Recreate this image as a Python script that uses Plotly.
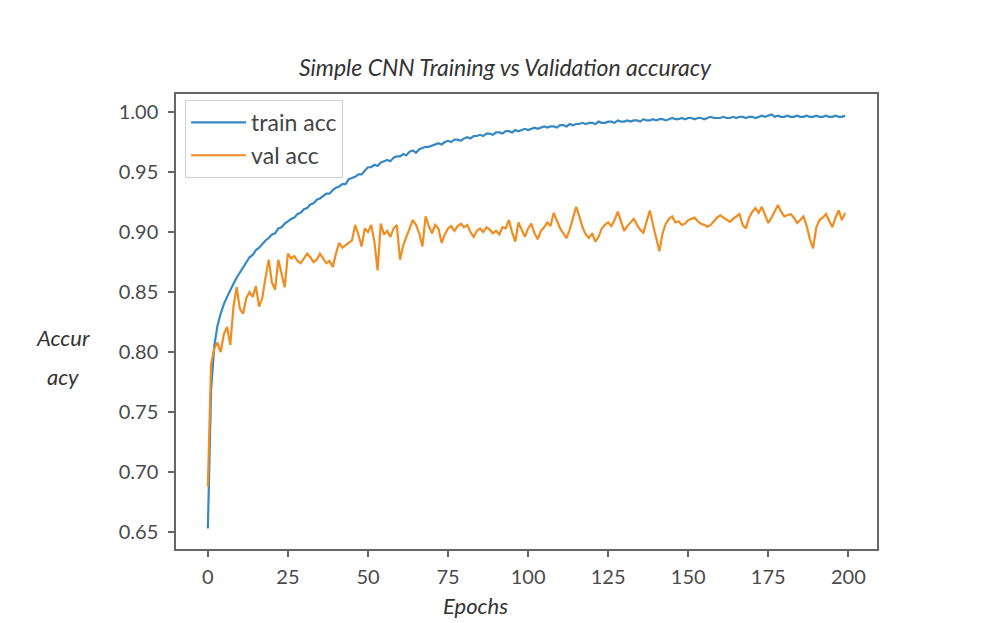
import plotly.graph_objects as go

epochs = list(range(200))

train_acc = [
    0.653, 0.768, 0.805, 0.822, 0.832, 0.840, 0.846, 0.852, 0.857, 0.862,
    0.866, 0.870, 0.874, 0.879, 0.881, 0.885, 0.887, 0.890, 0.893, 0.895,
    0.898, 0.899, 0.903, 0.904, 0.907, 0.909, 0.911, 0.912, 0.915, 0.916,
    0.919, 0.920, 0.923, 0.924, 0.927, 0.928, 0.930, 0.932, 0.932, 0.935,
    0.937, 0.938, 0.940, 0.940, 0.944, 0.945, 0.946, 0.948, 0.948, 0.951,
    0.954, 0.954, 0.956, 0.955, 0.958, 0.959, 0.960, 0.959, 0.962, 0.963,
    0.963, 0.965, 0.964, 0.967, 0.968, 0.966, 0.969, 0.970, 0.971, 0.971,
    0.972, 0.973, 0.974, 0.973, 0.975, 0.976, 0.975, 0.977, 0.977, 0.976,
    0.978, 0.979, 0.978, 0.980, 0.980, 0.981, 0.980, 0.982, 0.982, 0.981,
    0.983, 0.983, 0.982, 0.984, 0.984, 0.983, 0.985, 0.984, 0.985, 0.986,
    0.985, 0.986, 0.987, 0.986, 0.987, 0.988, 0.987, 0.988, 0.988, 0.987,
    0.989, 0.989, 0.988, 0.990, 0.989, 0.990, 0.990, 0.991, 0.990, 0.991,
    0.991, 0.990, 0.992, 0.991, 0.991, 0.992, 0.992, 0.991, 0.993, 0.992,
    0.992, 0.993, 0.992, 0.993, 0.993, 0.992, 0.994, 0.993, 0.993, 0.994,
    0.993, 0.994, 0.994, 0.993, 0.994, 0.995, 0.994, 0.994, 0.995, 0.994,
    0.995, 0.995, 0.994, 0.995, 0.995, 0.994, 0.995, 0.996, 0.995, 0.995,
    0.995, 0.996, 0.995, 0.995, 0.996, 0.995, 0.996, 0.996, 0.995, 0.996,
    0.996, 0.995, 0.996, 0.997, 0.996, 0.997, 0.998, 0.996, 0.997, 0.996,
    0.996, 0.997, 0.996, 0.996, 0.997, 0.996, 0.996, 0.997, 0.996, 0.996,
    0.997, 0.996, 0.996, 0.997, 0.996, 0.996, 0.997, 0.996, 0.996, 0.997,
]

val_acc = [
    0.688, 0.790, 0.803, 0.808, 0.800, 0.815, 0.821, 0.806, 0.838, 0.854,
    0.836, 0.832, 0.845, 0.850, 0.846, 0.855, 0.838, 0.845, 0.862, 0.877,
    0.858, 0.852, 0.877, 0.866, 0.854, 0.882, 0.878, 0.880, 0.876, 0.874,
    0.878, 0.882, 0.879, 0.875, 0.877, 0.882, 0.878, 0.874, 0.876, 0.871,
    0.882, 0.891, 0.887, 0.889, 0.891, 0.893, 0.906, 0.898, 0.888, 0.903,
    0.900, 0.906, 0.892, 0.868, 0.907, 0.898, 0.901, 0.896, 0.903, 0.906,
    0.877, 0.889, 0.896, 0.903, 0.910, 0.906, 0.899, 0.888, 0.913, 0.905,
    0.899, 0.906, 0.903, 0.891, 0.898, 0.903, 0.905, 0.901, 0.905, 0.907,
    0.904, 0.906, 0.900, 0.896, 0.901, 0.903, 0.900, 0.904, 0.902, 0.899,
    0.901, 0.898, 0.904, 0.903, 0.910, 0.900, 0.892, 0.908, 0.902, 0.896,
    0.903, 0.907, 0.899, 0.894, 0.901, 0.904, 0.908, 0.905, 0.916, 0.910,
    0.903, 0.899, 0.895, 0.902, 0.912, 0.921, 0.913, 0.904, 0.898, 0.895,
    0.899, 0.892, 0.896, 0.903, 0.906, 0.908, 0.905, 0.910, 0.917, 0.909,
    0.901, 0.905, 0.908, 0.911, 0.906, 0.902, 0.8995, 0.908, 0.918, 0.906,
    0.895, 0.884, 0.899, 0.907, 0.911, 0.913, 0.908, 0.909, 0.906, 0.907,
    0.910, 0.911, 0.912, 0.909, 0.907, 0.906, 0.9045, 0.906, 0.909, 0.912,
    0.914, 0.912, 0.910, 0.9085, 0.911, 0.913, 0.915, 0.906, 0.903, 0.912,
    0.917, 0.920, 0.916, 0.921, 0.914, 0.9075, 0.912, 0.918, 0.9225, 0.917,
    0.913, 0.914, 0.915, 0.912, 0.9075, 0.910, 0.913, 0.905, 0.894, 0.8865,
    0.904, 0.910, 0.912, 0.915, 0.909, 0.904, 0.912, 0.918, 0.910, 0.916,
]

x_ticks = [0, 25, 50, 75, 100, 125, 150, 175, 200]
y_ticks = [0.65, 0.70, 0.75, 0.80, 0.85, 0.90, 0.95, 1.00]
y_tick_text = ["0.65", "0.70", "0.75", "0.80", "0.85", "0.90", "0.95", "1.00"]

TXT = "#4a4a4a"
FONT = "Lato, 'Open Sans', sans-serif"

fig = go.Figure()
fig.add_trace(go.Scatter(x=epochs, y=train_acc, mode="lines", name="train acc",
                         line=dict(color="#3588c2", width=2.2)))
fig.add_trace(go.Scatter(x=epochs, y=val_acc, mode="lines", name="val acc",
                         line=dict(color="#f08c20", width=2.2)))

fig.update_layout(
    width=982, height=623,
    margin=dict(l=176, r=105, t=94, b=74),
    paper_bgcolor="white", plot_bgcolor="white",
    font=dict(family=FONT, color=TXT, size=19),
    showlegend=True,
    title=dict(text="<i>Simple CNN Training vs Validation accuracy</i>",
               xref="container", x=505/982, xanchor="center",
               yref="container", y=1 - 68/623, yanchor="middle",
               font=dict(family=FONT, size=23, color="#333333")),
    legend=dict(x=0.013, y=0.987, xanchor="left", yanchor="top",
                bgcolor="rgba(255,255,255,0.9)", bordercolor="#d0d0d0", borderwidth=1,
                font=dict(size=23, color="#444444"), itemwidth=55,
                tracegroupgap=2),
    xaxis=dict(range=[-9.95, 208.95], tickmode="array", tickvals=x_ticks,
               ticks="outside", ticklen=6, tickcolor="#666", tickwidth=1.5,
               ticklabelstandoff=3,
               showline=True, linecolor="#666", linewidth=1.5, mirror=True,
               showgrid=False, zeroline=False,
               tickfont=dict(size=20, color=TXT)),
    yaxis=dict(range=[0.636, 1.015], tickmode="array", tickvals=y_ticks,
               ticktext=y_tick_text,
               ticks="outside", ticklen=6, tickcolor="#666", tickwidth=1.5,
               ticklabelstandoff=6,
               showline=True, linecolor="#666", linewidth=1.5, mirror=True,
               showgrid=False, zeroline=False,
               tickfont=dict(size=20, color=TXT)),
    annotations=[
        dict(text="<i>Accur</i>", xref="paper", yref="paper",
             x=(63 - 176) / 701, y=(549 - 337) / 455, xanchor="center", yanchor="middle",
             showarrow=False, font=dict(size=22, color="#333333")),
        dict(text="<i>acy</i>", xref="paper", yref="paper",
             x=(63 - 176) / 701, y=(549 - 376) / 455, xanchor="center", yanchor="middle",
             showarrow=False, font=dict(size=22, color="#333333")),
        dict(text="<i>Epochs</i>", xref="paper", yref="paper",
             x=(475 - 176) / 701, y=(549 - 605) / 455, xanchor="center", yanchor="middle",
             showarrow=False, font=dict(size=22, color="#333333")),
    ],
)

fig.write_html("out.html")
